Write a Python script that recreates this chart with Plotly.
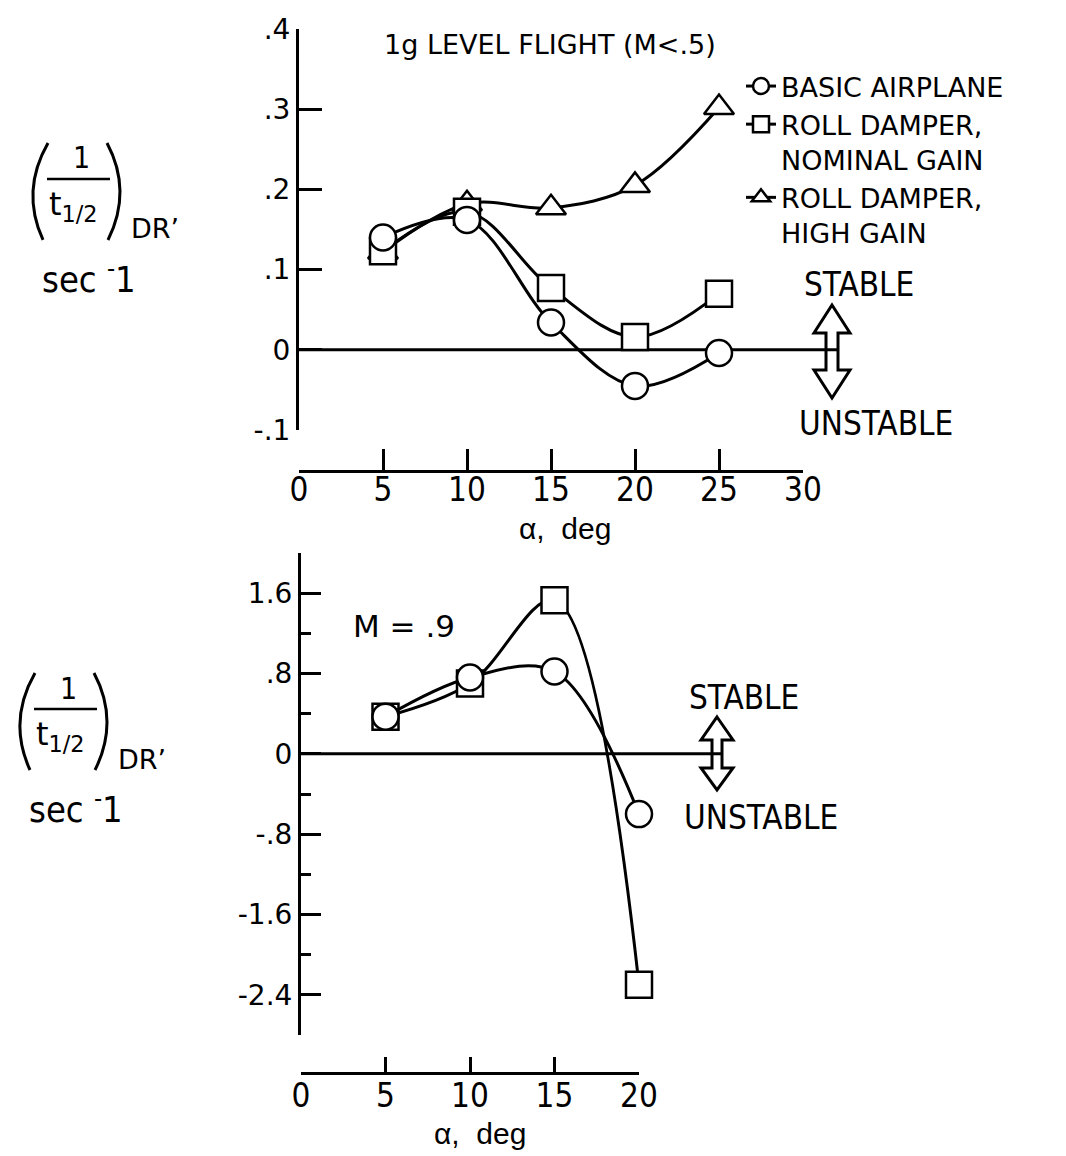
import plotly.graph_objects as go

W, H = 1066, 1156

# ---- data: damping of the Dutch-roll mode, (1/t_1/2)_DR in sec^-1 ----
alpha_low = [5, 10, 15, 20, 25]
basic_low = [0.140, 0.162, 0.034, -0.045, -0.004]
nominal_low = [0.123, 0.172, 0.077, 0.016, 0.070]
high_low = [0.122, 0.182, 0.177, 0.205, 0.302]

alpha_m09 = [5, 10, 15, 20]
basic_m09 = [0.37, 0.76, 0.82, -0.60]
nominal_m09 = [0.37, 0.70, 1.53, -2.30]

top_yticks = [-0.1, 0, 0.1, 0.2, 0.3, 0.4]
top_yticktext = ["-.1", "0", ".1", ".2", ".3", ".4"]
top_xticks = [0, 5, 10, 15, 20, 25, 30]
bot_yticks = [2.0, 1.6, 0.8, 0, -0.8, -1.6, -2.4]
bot_yticktext = ["", "1.6", ".8", "0", "-.8", "-1.6", "-2.4"]
bot_yminor = [1.2, 0.4, -0.4, -1.2, -2.0, -2.8]
bot_xticks = [0, 5, 10, 15, 20]

NARROW = "Liberation Sans Narrow, DejaVu Sans Condensed, sans-serif"
DEJAVU = "DejaVu Sans, sans-serif"
LIB = "Liberation Sans, Arial, sans-serif"
BLACK = "black"


def px(x):
    return x / W


def py(y):
    return 1 - y / H


# pixel scale of the alpha axes (px per degree)
TOP_SCALE = (803 - 299) / 30.0
BOT_SCALE = (639 - 301) / 20.0
TOP_END = (838 - 299) / TOP_SCALE
BOT_END = (722 - 301) / BOT_SCALE

fig = go.Figure()

# axis-holder traces so the visible alpha axes get a subplot
fig.add_trace(go.Scatter(x=[None], y=[None], xaxis="x", yaxis="y",
                         showlegend=False, hoverinfo="skip"))
fig.add_trace(go.Scatter(x=[None], y=[None], xaxis="x3", yaxis="y2",
                         showlegend=False, hoverinfo="skip"))

# zero reference lines
fig.add_trace(go.Scatter(x=[0, TOP_END], y=[0, 0], xaxis="x2", yaxis="y",
                         mode="lines", line=dict(color=BLACK, width=3),
                         showlegend=False, hoverinfo="skip"))
fig.add_trace(go.Scatter(x=[0, BOT_END], y=[0, 0], xaxis="x4", yaxis="y2",
                         mode="lines", line=dict(color=BLACK, width=3),
                         showlegend=False, hoverinfo="skip"))

marker_line = dict(color=BLACK, width=2.5)
curve = dict(color=BLACK, width=3, shape="spline", smoothing=1.0)

# upper panel: 1g level flight
fig.add_trace(go.Scatter(
    x=alpha_low, y=high_low, xaxis="x2", yaxis="y", mode="lines+markers",
    name="ROLL DAMPER,<br>HIGH GAIN", legendrank=3, line=curve,
    marker=dict(symbol="triangle-up", size=26, color="white", line=marker_line)))
fig.add_trace(go.Scatter(
    x=alpha_low, y=nominal_low, xaxis="x2", yaxis="y", mode="lines+markers",
    name="ROLL DAMPER,<br>NOMINAL GAIN", legendrank=2, line=curve,
    marker=dict(symbol="square", size=26, color="white", line=marker_line)))
fig.add_trace(go.Scatter(
    x=alpha_low, y=basic_low, xaxis="x2", yaxis="y", mode="lines+markers",
    name="BASIC AIRPLANE", legendrank=1, line=curve,
    marker=dict(symbol="circle", size=26, color="white", line=marker_line)))

# lower panel: M = .9
fig.add_trace(go.Scatter(
    x=alpha_m09, y=nominal_m09, xaxis="x4", yaxis="y2", mode="lines+markers",
    showlegend=False, line=curve,
    marker=dict(symbol="square", size=26, color="white", line=marker_line)))
fig.add_trace(go.Scatter(
    x=alpha_m09, y=basic_m09, xaxis="x4", yaxis="y2", mode="lines+markers",
    showlegend=False, line=curve,
    marker=dict(symbol="circle", size=26, color="white", line=marker_line)))

axis_common = dict(showline=True, linewidth=3, linecolor=BLACK, showgrid=False,
                   zeroline=False, ticks="inside", tickwidth=2.5, tickcolor=BLACK,
                   automargin=False)

fig.update_layout(
    width=W, height=H,
    margin=dict(l=0, r=0, t=0, b=0, pad=0, autoexpand=False),
    paper_bgcolor="white", plot_bgcolor="rgba(0,0,0,0)",
    xaxis=dict(domain=[px(299), px(803)], range=[0, 30], anchor="free",
               position=py(471), tickmode="array", tickvals=top_xticks,
               ticklen=21, ticklabelstandoff=-12,
               tickfont=dict(family=NARROW, size=33, color=BLACK),
               **axis_common),
    xaxis2=dict(domain=[px(299), px(838)], range=[0, TOP_END], anchor="y",
                visible=False, automargin=False),
    yaxis=dict(domain=[py(430), py(29)], range=[-0.1, 0.4], anchor="x",
               tickmode="array", tickvals=top_yticks, ticktext=top_yticktext,
               ticklen=23, tickfont=dict(family=DEJAVU, size=28, color=BLACK),
               **axis_common),
    xaxis3=dict(domain=[px(301), px(639)], range=[0, 20], anchor="free",
                position=py(1073), tickmode="array", tickvals=bot_xticks,
                ticklen=15, ticklabelstandoff=-8,
                tickfont=dict(family=NARROW, size=33, color=BLACK),
                **axis_common),
    xaxis4=dict(domain=[px(301), px(722)], range=[0, BOT_END], anchor="y2",
                visible=False, automargin=False),
    yaxis2=dict(domain=[py(1035), py(553)], range=[-2.8, 2.0], anchor="x3",
                tickmode="array", tickvals=bot_yticks, ticktext=bot_yticktext,
                ticklen=20, tickfont=dict(family=DEJAVU, size=28, color=BLACK),
                minor=dict(tickmode="array", tickvals=bot_yminor, ticks="inside",
                           ticklen=10, tickwidth=2.5, tickcolor=BLACK,
                           showgrid=False),
                **axis_common),
    showlegend=True,
    legend=dict(x=px(741), y=py(62), xanchor="left", yanchor="top",
                bgcolor="rgba(0,0,0,0)", valign="top", traceorder="normal",
                font=dict(family=DEJAVU, size=27, color=BLACK),
                itemwidth=30, tracegroupgap=0),
)


def text(t, x, y, size, family=NARROW, xanchor="center"):
    fig.add_annotation(text=t, x=px(x), y=py(y), xref="paper", yref="paper",
                       showarrow=False, xanchor=xanchor, yanchor="middle",
                       font=dict(family=family, size=size, color=BLACK))


# panel titles and axis titles
text("1g LEVEL FLIGHT (M&lt;.5)", 550, 44, 27, DEJAVU)
text("M = .9", 404, 626, 31, DEJAVU)
text("α,  deg", 565, 528, 30, LIB)
text("α,  deg", 480, 1133, 30, LIB)

# stability direction labels
text("STABLE", 859, 284, 33)
text("UNSTABLE", 876, 423, 33)
text("STABLE", 744, 697, 33)
text("UNSTABLE", 761, 817, 33)


def double_arrow(cx, tip_top, base_top, base_bot, tip_bot, head, shaft):
    pts = [(cx, tip_top), (cx + head, base_top), (cx + shaft, base_top),
           (cx + shaft, base_bot), (cx + head, base_bot), (cx, tip_bot),
           (cx - head, base_bot), (cx - shaft, base_bot),
           (cx - shaft, base_top), (cx - head, base_top)]
    path = "M " + " L ".join(f"{px(a):.5f},{py(b):.5f}" for a, b in pts) + " Z"
    fig.add_shape(type="path", path=path, xref="paper", yref="paper",
                  line=dict(color=BLACK, width=3), fillcolor="white",
                  layer="below")


double_arrow(832, 305, 333, 370, 398, 18, 6)
double_arrow(717, 717, 740, 768, 790, 16, 5)


def ordinate_label(dx, dy):
    # (1 / t_1/2)_DR, sec^-1 built from text pieces, a fraction bar and
    # two large parentheses
    text("1", 81 + dx, 158 + dy, 30)
    fig.add_shape(type="line", xref="paper", yref="paper",
                  x0=px(47 + dx), x1=px(110 + dx), y0=py(179 + dy), y1=py(179 + dy),
                  line=dict(color=BLACK, width=2.5))
    text("t<sub>1/2</sub>", 73 + dx, 206 + dy, 32, DEJAVU)
    text("DR’", 155 + dx, 229 + dy, 27, DEJAVU)
    text("sec <sup>-</sup>1", 89 + dx, 277 + dy, 36)
    for (x0, cxp, x1) in [(48, 20.5, 43), (107, 132.5, 108)]:
        path = (f"M {px(x0 + dx):.5f},{py(143 + dy):.5f} "
                f"Q {px(cxp + dx):.5f},{py(191 + dy):.5f} "
                f"{px(x1 + dx):.5f},{py(240 + dy):.5f}")
        fig.add_shape(type="path", path=path, xref="paper", yref="paper",
                      line=dict(color=BLACK, width=3))


ordinate_label(0, 0)
ordinate_label(-13, 530)

fig.write_html("out.html")
